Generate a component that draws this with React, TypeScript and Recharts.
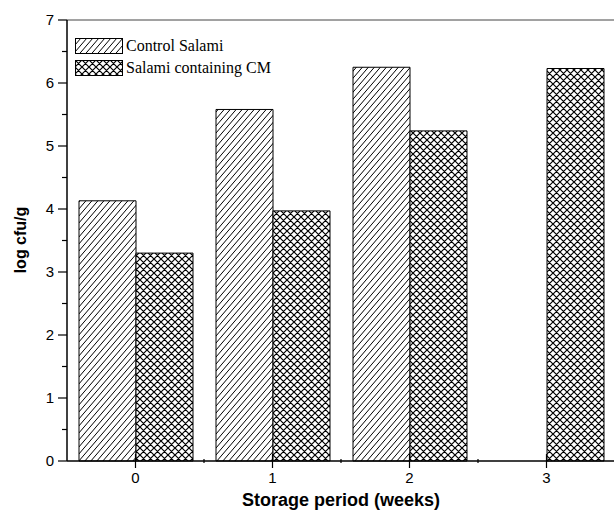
import React from "react";
import { BarChart, Bar, XAxis, YAxis, ReferenceLine } from "recharts";

const weeks = ["0", "1", "2", "3"];
const controlSalami = [4.13, 5.58, 6.25, null];
const salamiCM = [3.3, 3.97, 5.24, 6.23];
const yTicks = [0, 0.5, 1, 1.5, 2, 2.5, 3, 3.5, 4, 4.5, 5, 5.5, 6, 6.5, 7];

const data = weeks.map((w, i) => ({ week: w, control: controlSalami[i], cm: salamiCM[i] }));

const sans = "'Liberation Sans', Arial, sans-serif";
const serif = "'Liberation Serif', 'Times New Roman', serif";
const BAND = 137;

function Patterns({ prefix }: { prefix: string }) {
    return (
        <defs>
            <pattern id={`${prefix}diag`} width="6" height="7" patternUnits="userSpaceOnUse">
                <rect width="6" height="7" fill="#fff" />
                <path d="M0,7 L6,0 M-1,1.17 L1,-1.17 M5,8.17 L7,5.83" stroke="#000" strokeWidth="1" />
            </pattern>
            <pattern id={`${prefix}cross`} width="7" height="7" patternUnits="userSpaceOnUse">
                <rect width="7" height="7" fill="#fff" />
                <path d="M0,7 L7,0 M-1,1 L1,-1 M6,8 L8,6 M0,0 L7,7 M-1,6 L1,8 M6,-1 L8,1" stroke="#000" strokeWidth="1.2" />
            </pattern>
        </defs>
    );
}

function XTick({ x, y, payload, index }: any) {
    return (
        <g>
            <line x1={x} x2={x} y1={y - 7} y2={y + 7} stroke="#000" strokeWidth={1.2} />
            {index < weeks.length - 1 && (
                <line x1={x + BAND / 2} x2={x + BAND / 2} y1={y - 2} y2={y + 2} stroke="#000" strokeWidth={1.2} />
            )}
            <text x={x} y={y + 22} textAnchor="middle" fontFamily={sans} fontSize={15} fill="#000">
                {payload.value}
            </text>
        </g>
    );
}

function YTick({ x, y, payload }: any) {
    const major = Number.isInteger(payload.value);
    return (
        <g>
            <line x1={x - (major ? 9 : 5)} x2={x} y1={y} y2={y} stroke="#000" strokeWidth={1.2} />
            {major && (
                <text x={x - 13} y={y + 5} textAnchor="end" fontFamily={sans} fontSize={15} fill="#000">
                    {payload.value}
                </text>
            )}
        </g>
    );
}

function LegendBox() {
    const items = [
        { id: "lgdiag", label: "Control Salami" },
        { id: "lgcross", label: "Salami containing CM" },
    ];
    return (
        <div style={{ position: "absolute", left: 75, top: 35 }}>
            {items.map((it) => (
                <div key={it.id} style={{ display: "flex", alignItems: "center", height: 22 }}>
                    <svg width={50} height={16}>
                        <Patterns prefix="lg" />
                        <rect x={0.5} y={0.5} width={47} height={15} fill={`url(#${it.id})`} stroke="#000" />
                    </svg>
                    <span style={{ fontFamily: serif, fontSize: 16, marginLeft: 1, color: "#000", lineHeight: "16px" }}>
                        {it.label}
                    </span>
                </div>
            ))}
        </div>
    );
}

export default function App() {
    return (
        <div style={{ position: "absolute", left: 0, top: 0, width: 614, height: 513, overflow: "hidden", background: "#fff" }}>
            <BarChart
                width={616}
                height={513}
                data={data}
                margin={{ top: 20, right: 1, bottom: 0, left: 0 }}
                barGap={0}
                barCategoryGap={12}
            >
                <Patterns prefix="" />
                <ReferenceLine y={7} stroke="#444" strokeWidth={1} />
                <XAxis
                    dataKey="week"
                    height={52}
                    tickSize={0}
                    tickMargin={0}
                    tickLine={false}
                    tick={<XTick />}
                    axisLine={{ stroke: "#000", strokeWidth: 1.5 }}
                    interval={0}
                />
                <YAxis
                    width={67}
                    domain={[0, 7]}
                    ticks={yTicks}
                    interval={0}
                    tickSize={0}
                    tickMargin={0}
                    tickLine={false}
                    tick={<YTick />}
                    axisLine={{ stroke: "#000", strokeWidth: 1.5 }}
                />
                <Bar dataKey="control" fill="url(#diag)" stroke="#000" strokeWidth={1} isAnimationActive={false} />
                <Bar dataKey="cm" fill="url(#cross)" stroke="#000" strokeWidth={1} isAnimationActive={false} />
                <text x={341} y={506} textAnchor="middle" fontFamily={sans} fontWeight="bold" fontSize={18} fill="#000">
                    Storage period (weeks)
                </text>
                <text
                    x={26}
                    y={240}
                    transform="rotate(-90 26 240)"
                    textAnchor="middle"
                    fontFamily={sans}
                    fontWeight="bold"
                    fontSize={16}
                    fill="#000"
                >
                    log cfu/g
                </text>
            </BarChart>
            <LegendBox />
        </div>
    );
}
